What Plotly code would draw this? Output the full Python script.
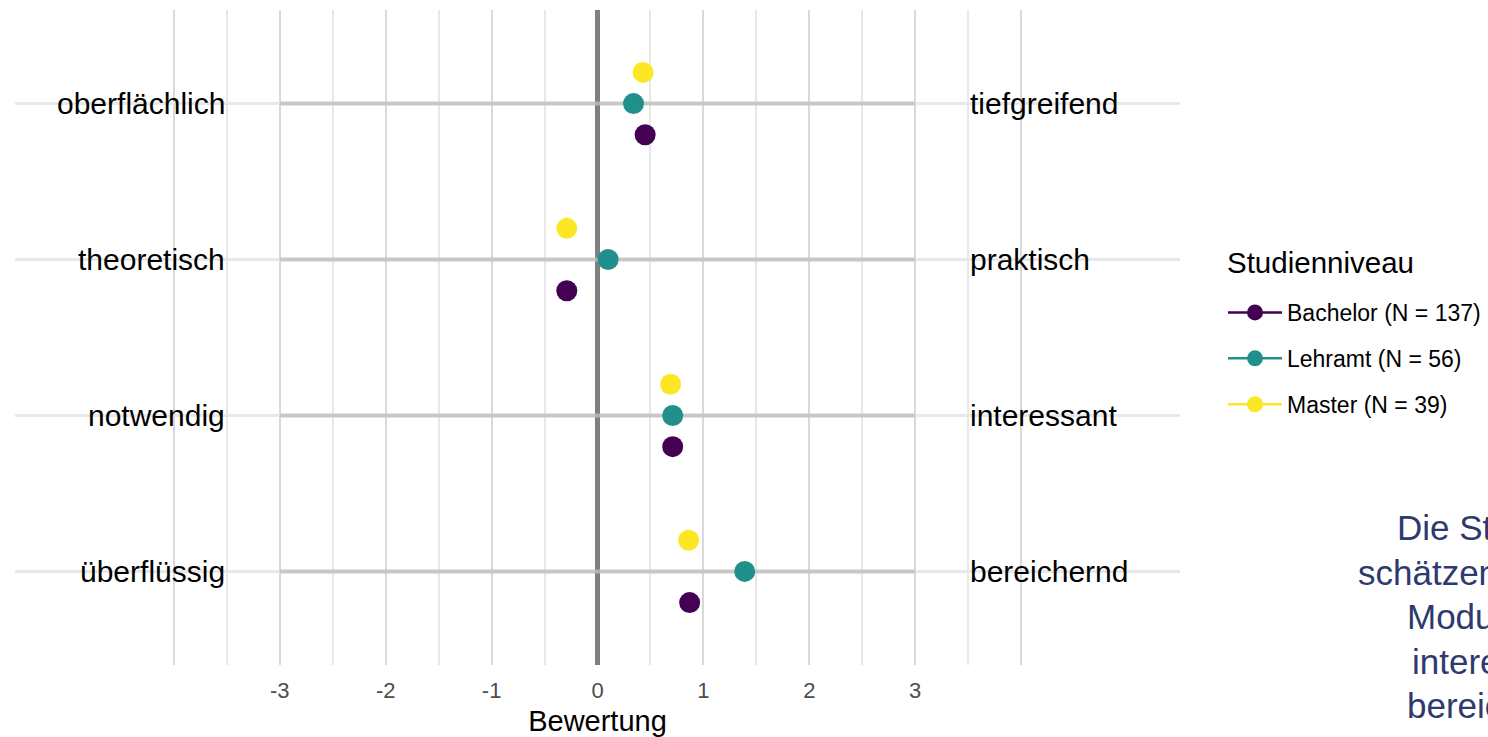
import plotly.graph_objects as go

# ---- data ----
left_labels = ["oberflächlich", "theoretisch", "notwendig", "überflüssig"]
right_labels = ["tiefgreifend", "praktisch", "interessant", "bereichernd"]
groups = ["Bachelor (N = 137)", "Lehramt (N = 56)", "Master (N = 39)"]
bachelor = [0.45, -0.29, 0.71, 0.87]
lehramt = [0.34, 0.10, 0.71, 1.39]
master = [0.43, -0.29, 0.69, 0.86]
tick_vals = [-3, -2, -1, 0, 1, 2, 3]
note_lines = ["Die Studierenden", "schätzen das", "Modul als", "interessant und", "bereichernd ein."]

colors = ["#440154", "#21908C", "#FDE725"]
dodge = [-0.2, 0.0, 0.2]
n = len(left_labels)
ypos = [n - i for i in range(n)]  # top to bottom
YR = [0.4, n + 0.6]

FONT = "Liberation Sans, Arial, Helvetica, sans-serif"

fig = go.Figure()

# vertical zero line
fig.add_trace(go.Scatter(x=[0, 0], y=YR, mode="lines",
                         line=dict(color="#808080", width=5),
                         showlegend=False, hoverinfo="skip"))

# segments from -3 to 3 at each item
seg_x, seg_y = [], []
for y in ypos:
    seg_x += [min(tick_vals), max(tick_vals), None]
    seg_y += [y, y, None]
fig.add_trace(go.Scatter(x=seg_x, y=seg_y, mode="lines",
                         line=dict(color="rgba(190,190,190,0.8)", width=4),
                         showlegend=False, hoverinfo="skip"))

for name, vals, col, off in zip(groups, [bachelor, lehramt, master], colors, dodge):
    fig.add_trace(go.Scatter(
        x=vals, y=[y + off for y in ypos], mode="markers", name=name,
        marker=dict(color=col, size=21), showlegend=False, legendgroup=name,
    ))

# legend entries with line+point glyph
for name, col in zip(groups, colors):
    fig.add_trace(go.Scatter(x=[None], y=[None], mode="lines+markers", name=name,
                             line=dict(color=col, width=2.5),
                             marker=dict(color=col, size=21), legendgroup=name))

# item labels
for y, lt, rt in zip(ypos, left_labels, right_labels):
    fig.add_annotation(x=-3.5, y=y, xref="x", yref="y", text=lt, showarrow=False,
                       xanchor="right", yanchor="middle",
                       font=dict(size=30, color="black", family=FONT))
    fig.add_annotation(x=3.5, y=y, xref="x", yref="y", text=rt, showarrow=False,
                       xanchor="left", yanchor="middle",
                       font=dict(size=30, color="black", family=FONT))

W, H = 1488, 737
ML, MR, MT, MB = 15, 308, 10, 72
pw, ph = W - ML - MR, H - MT - MB

def px2paper(px, py):
    return (px - ML) / pw, (H - MB - py) / ph

# legend title
tx, ty = px2paper(1225, 262)
fig.add_annotation(x=tx, y=ty, xref="paper", yref="paper", text="Studienniveau",
                   showarrow=False, xanchor="left", yanchor="middle",
                   font=dict(size=29.5, color="black", family=FONT))

# side note text (cut at the page edge, as in the source slide)
note_x = [1395, 1356, 1405, 1410, 1405]
note_y = [527, 572, 616, 661, 705]
for line, px, py in zip(note_lines, note_x, note_y):
    ax, ay = px2paper(px, py)
    fig.add_annotation(x=ax, y=ay, xref="paper", yref="paper",
                       text=line, showarrow=False, xanchor="left", yanchor="middle",
                       font=dict(size=35, color="#2e3a6f", family=FONT))

lx, ly = px2paper(1223, 291)
fig.update_layout(
    width=W, height=H,
    margin=dict(l=ML, r=MR, t=MT, b=MB, pad=0, autoexpand=False),
    plot_bgcolor="white", paper_bgcolor="white",
    font=dict(family=FONT, color="black"),
    legend=dict(
        font=dict(size=23, color="black"),
        x=lx, xanchor="left", y=ly, yanchor="top",
        itemwidth=54, tracegroupgap=13, bgcolor="rgba(0,0,0,0)",
    ),
    xaxis=dict(
        range=[-5.5, 5.5], automargin=False,
        tickmode="array",
        tickvals=[-4] + tick_vals + [4],
        ticktext=[""] + [str(v) for v in tick_vals] + [""],
        showgrid=True, gridcolor="#d9d9d9", gridwidth=1.5,
        minor=dict(tickmode="array", tickvals=[v + 0.5 for v in range(-4, 4)],
                   showgrid=True, gridcolor="#e8e8e8", gridwidth=1.5),
        zeroline=False, showline=False, ticks="",
        ticklabelstandoff=10,
        tickfont=dict(size=22, color="#4d4d4d"),
        title=dict(text="Bewertung", font=dict(size=29, color="black"), standoff=10),
    ),
    yaxis=dict(
        range=YR, automargin=False,
        tickvals=ypos, showticklabels=False,
        showgrid=True, gridcolor="#e8e8e8", gridwidth=3,
        zeroline=False, showline=False, ticks="",
    ),
)

fig.write_html("out.html", config={"displayModeBar": False},
               post_script="document.body.style.margin='0';")
